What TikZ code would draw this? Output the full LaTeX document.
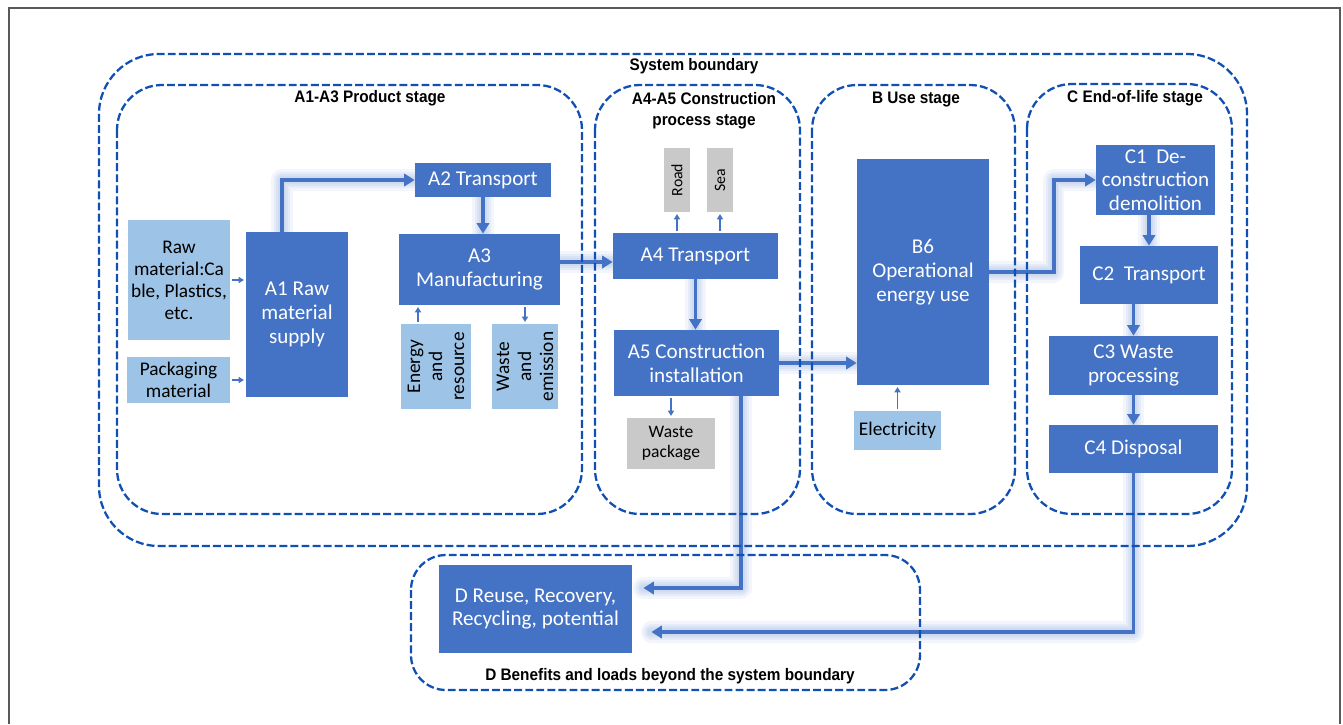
\documentclass[tikz,border=0pt]{standalone}
\usepackage{fontspec}
\setmainfont{Carlito}
\newfontfamily\stagefont[FakeStretch=0.92]{Liberation Sans}
\usetikzlibrary{arrows.meta}

\definecolor{boxblue}{HTML}{4472C4}
\definecolor{lightblue}{HTML}{9DC3E6}
\definecolor{boxgray}{HTML}{C9C9C9}
\definecolor{lineblue}{HTML}{1050B4}
\definecolor{framegray}{HTML}{595959}

\pgfdeclarelayer{background}
\pgfsetlayers{background,main}

\tikzset{
  mainbox/.style={fill=boxblue, text=white, inner sep=1pt, align=center, font=\fontsize{12}{13.5}\selectfont},
  inbox/.style={fill=lightblue, text=black, inner sep=1pt, align=center, font=\fontsize{11}{12.5}\selectfont},
  greybox/.style={fill=boxgray, text=black, inner sep=1pt, align=center, font=\fontsize{9}{10.5}\selectfont},
  stageline/.style={draw=lineblue, line width=1.3pt, dash pattern=on 4.5pt off 1.8pt},
  stagelabel/.style={font=\stagefont\bfseries\fontsize{9.5}{12}\selectfont, align=center, inner sep=0pt},
  glow/.style={preaction={draw=boxblue, -, line width=#1, opacity=0.07, line cap=round, line join=round}},
  flow/.style={draw=boxblue, line width=2.2pt, -{Triangle[length=6pt,width=7pt]},
    glow=12pt, glow=9pt, glow=6.5pt, glow=4.5pt},
  feed/.style={draw=boxblue, line width=0.7pt, -{Triangle[length=3pt,width=3.5pt]}, shorten <=1pt, shorten >=1pt}
}

\begin{document}
\begin{tikzpicture}[x=0.02cm, y=-0.02cm]
  \useasboundingbox (0,0) rectangle (1343,724);
  % frame
  \draw[framegray, line width=1.5pt] (9,724) -- (9,8) -- (1340,8) -- (1340,724);

  % boundaries
  \draw[stageline, rounded corners=1.2cm] (99,54) rectangle (1247,546);
  \draw[stageline, rounded corners=0.9cm] (117,85) rectangle (582,514);
  \draw[stageline, rounded corners=0.9cm] (595,85) rectangle (800,514);
  \draw[stageline, rounded corners=0.9cm] (812,85) rectangle (1015,514);
  \draw[stageline, rounded corners=0.9cm] (1027,84) rectangle (1232,514);
  \draw[stageline, rounded corners=0.7cm] (411,555) rectangle (920,690);

  \node[stagelabel] (sysb) at (694,66) {System boundary};
  \node[stagelabel] (lprod) at (370,98) {A1-A3 Product stage};
  \node[stagelabel] (lcons) at (704,111) {A4-A5 Construction\\process stage};
  \node[stagelabel] (luse) at (916,100) {B Use stage};
  \node[stagelabel] (lend) at (1135,98) {C End-of-life stage};
  \node[stagelabel] (lben) at (670,676) {D Benefits and loads beyond the system boundary};

  % product stage
  \node[inbox, minimum width=2.04cm, minimum height=2.4cm] (raw) at (179,280) {Raw\\material:Ca\\ble, Plastics,\\etc.};
  \node[inbox, minimum width=2.06cm, minimum height=0.92cm] (pack) at (178.5,380) {Packaging\\material};
  \node[mainbox, minimum width=2.04cm, minimum height=3.3cm] (a1) at (297,314.5) {A1 Raw\\material\\supply};
  \node[mainbox, minimum width=2.72cm, minimum height=0.68cm] (a2) at (483,180) {A2 Transport};
  \node[mainbox, minimum width=3.22cm, minimum height=1.42cm] (a3) at (479.5,269.5) {A3\\Manufacturing};
  \node[inbox, rotate=90, minimum width=1.7cm, minimum height=1.4cm] (energy) at (436,366.5) {Energy\\and\\resource};
  \node[inbox, rotate=90, minimum width=1.7cm, minimum height=1.32cm] (waste) at (525,366.5) {Waste\\and\\emission};

  % construction stage
  \node[greybox, rotate=90, minimum width=1.28cm, minimum height=0.52cm] (road) at (677,180) {Road};
  \node[greybox, rotate=90, minimum width=1.28cm, minimum height=0.52cm] (sea) at (720,180) {Sea};
  \node[mainbox, minimum width=3.3cm, minimum height=0.92cm] (a4) at (695.5,256) {A4 Transport};
  \node[mainbox, minimum width=3.3cm, minimum height=1.32cm] (a5) at (696.5,363) {A5 Construction\\installation};
  \node[greybox, font=\fontsize{10}{11.5}\selectfont, minimum width=1.76cm, minimum height=1.02cm] (wpack) at (671,443.5) {Waste\\package};

  % use stage
  \node[mainbox, minimum width=2.64cm, minimum height=4.52cm] (b6) at (923,272) {B6\\Operational\\energy use};
  \node[inbox, minimum width=1.74cm, minimum height=0.78cm] (elec) at (897.5,430.5) {Electricity};

  % end-of-life stage
  \node[mainbox, minimum width=2.38cm, minimum height=1.4cm] (c1) at (1155.5,180) {C1\ \ De-\\construction\\demolition};
  \node[mainbox, minimum width=2.76cm, minimum height=1.16cm] (c2) at (1149,275) {C2\ \ Transport};
  \node[mainbox, minimum width=3.38cm, minimum height=1.18cm] (c3) at (1133.5,365.5) {C3 Waste\\processing};
  \node[mainbox, minimum width=3.38cm, minimum height=0.96cm] (c4) at (1133.5,449) {C4 Disposal};

  % beyond the boundary
  \node[mainbox, minimum width=3.86cm, minimum height=1.76cm] (d) at (535.5,609) {D Reuse, Recovery,\\Recycling, potential};

  % small inputs and outputs
  \draw[feed] (raw.east) -- (raw.east -| a1.west);
  \draw[feed] (pack.east) -- (pack.east -| a1.west);
  \draw[feed] ([xshift=-0.36cm]energy.east) -- ([xshift=-0.36cm]energy.east |- a3.south);
  \draw[feed] (a3.south -| waste.east) -- (waste.east);
  \draw[feed] (a4.north -| road.west) -- (road.west);
  \draw[feed] (a4.north -| sea.west) -- (sea.west);
  \draw[feed] (a5.south -| wpack.north) -- (wpack.north);
  \draw[feed] (elec.north) -- (elec.north |- b6.south);

  % main flow
  \begin{pgfonlayer}{background}
    \draw[flow] ([xshift=-0.3cm]a1.north) |- (a2.west);
    \draw[flow] (a2.south) -- (a2.south |- a3.north);
    \draw[flow] ([yshift=0.15cm]a3.east) -- ([yshift=0.15cm]a3.east -| a4.west);
    \draw[flow] (a4.south) -- (a4.south |- a5.north);
    \draw[flow] (a5.east) -- (a5.east -| b6.west);
    \draw[flow] (b6.east) -- ([xshift=-0.84cm]c1.west |- b6.east) |- (c1.west);
    \draw[flow] (c2.north |- c1.south) -- (c2.north);
    \draw[flow] (c3.north |- c2.south) -- (c3.north);
    \draw[flow] (c3.south) -- (c4.north);
    \draw[flow] ([xshift=0.89cm]a5.south) |- ([xshift=0.22cm,yshift=0.42cm]d.east);
    \draw[flow] (c4.south) |- ([xshift=0.38cm,yshift=-0.46cm]d.east);
  \end{pgfonlayer}
\end{tikzpicture}
\end{document}
